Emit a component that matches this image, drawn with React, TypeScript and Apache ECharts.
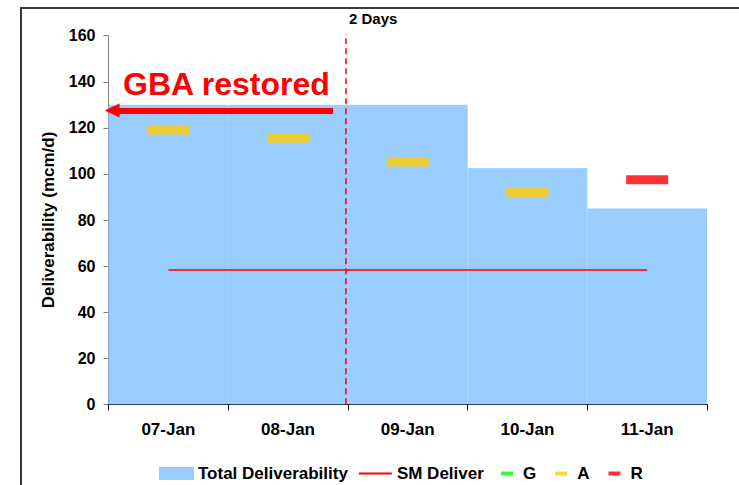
import React, { useEffect, useRef } from "react";
import * as echarts from "echarts";

const categories = ["07-Jan", "08-Jan", "09-Jan", "10-Jan", "11-Jan"];
const totalDeliverability = [130, 130, 130, 102.5, 85];
const smDeliver = [58.3, 58.3, 58.3, 58.3, 58.3];
const gValues: (number | null)[] = [null, null, null, null, null];
const aValues: (number | null)[] = [119.1, 115.5, 105.2, 91.9, null];
const rValues: (number | null)[] = [null, null, null, null, 97.5];
const yTicks = { min: 0, max: 160, interval: 20 };
// position on the hidden value axis (category index units) of the "2 Days" divider
const dividerX = 1.984;
const dividerTop = 160.9;
const arrowFrom = [1.876, 127.5];
const arrowTo = [0.03, 127.5];

const FONT = "'Liberation Sans', Arial, sans-serif";

export default function App() {
  const ref = useRef<HTMLDivElement>(null);
  useEffect(() => {
    document.body.style.margin = "0";
    const chart = echarts.init(ref.current!, undefined, { renderer: "svg" });
    chart.setOption({
      animation: false,
      backgroundColor: "#ffffff",
      textStyle: { fontFamily: FONT },
      grid: { left: 108.5, right: 32, top: 35.7, bottom: 80.7, containLabel: false },
      xAxis: [
        {
          type: "category",
          data: categories,
          axisLine: { lineStyle: { color: "#000", width: 1 } },
          axisTick: { show: true, length: 6, lineStyle: { color: "#000" } },
          axisLabel: { fontSize: 17, fontWeight: "bold", color: "#000", margin: 17, fontFamily: FONT },
          splitLine: { show: false },
        },
        {
          type: "value",
          min: 0,
          max: 5,
          show: false,
          position: "bottom",
        },
      ],
      yAxis: {
        type: "value",
        min: yTicks.min,
        max: yTicks.max,
        interval: yTicks.interval,
        name: "Deliverability (mcm/d)",
        nameLocation: "middle",
        nameRotate: 90,
        nameGap: 52,
        nameTextStyle: { fontSize: 17, fontWeight: "bold", color: "#000", fontFamily: FONT },
        axisLine: { show: true, lineStyle: { color: "#808080", width: 1 } },
        axisTick: { show: true, length: 5, lineStyle: { color: "#808080" } },
        axisLabel: { fontSize: 16, fontWeight: "bold", color: "#000", margin: 13, fontFamily: FONT },
        splitLine: { show: false },
      },
      legend: [
        {
          left: 159,
          top: 465,
          padding: 0,
          itemWidth: 33,
          itemHeight: 11,
          itemGap: 10,
          textStyle: { fontSize: 17, fontWeight: "bold", color: "#000", fontFamily: FONT },
          data: [
            { name: "Total Deliverability", icon: "rect" },
            { name: "SM Deliver", itemStyle: { opacity: 0 }, lineStyle: { width: 2 } },
          ],
        },
        {
          left: 501,
          top: 465,
          padding: 0,
          itemWidth: 12,
          itemHeight: 4,
          itemGap: 19,
          textStyle: {
            fontSize: 17,
            fontWeight: "bold",
            color: "#000",
            fontFamily: FONT,
            padding: [0, 0, 0, 5],
          },
          data: [
            { name: "G", icon: "rect" },
            { name: "A", icon: "rect" },
            { name: "R", icon: "rect" },
          ],
        },
      ],
      series: [
        {
          name: "Total Deliverability",
          type: "bar",
          data: totalDeliverability,
          barCategoryGap: "0%",
          itemStyle: { color: "#99CCFF", borderColor: "#99CCFF", borderWidth: 1 },
          z: 1,
        },
        {
          name: "SM Deliver",
          type: "line",
          data: smDeliver,
          symbol: "none",
          lineStyle: { color: "#FF0000", width: 1.5 },
          itemStyle: { color: "#FF0000" },
          z: 3,
        },
        {
          name: "G",
          type: "scatter",
          data: gValues,
          symbol: "rect",
          symbolSize: [42, 9],
          itemStyle: { color: "#00FF00" },
          z: 4,
        },
        {
          name: "A",
          type: "scatter",
          data: aValues,
          symbol: "rect",
          symbolSize: [42, 9],
          itemStyle: { color: "#FFCC00" },
          z: 4,
        },
        {
          name: "R",
          type: "scatter",
          data: rValues,
          symbol: "rect",
          symbolSize: [42, 9],
          itemStyle: { color: "#FF0000" },
          z: 4,
        },
        {
          name: "divider",
          type: "line",
          xAxisIndex: 1,
          data: [
            [dividerX, 0],
            [dividerX, dividerTop],
          ],
          symbol: "none",
          clip: false,
          silent: true,
          lineStyle: { color: "#FF0000", width: 1.5, type: [6, 4] },
          z: 5,
          markLine: {
            silent: true,
            symbol: ["none", "triangle"],
            symbolSize: [14, 15],
            label: { show: false },
            lineStyle: { color: "#FF0000", width: 6, type: "solid" },
            emphasis: { disabled: true },
            data: [[{ coord: arrowFrom }, { coord: arrowTo }]],
          },
        },
      ],
      graphic: [
        {
          type: "rect",
          shape: { x: 21, y: 8, width: 800, height: 600 },
          style: { fill: "none", stroke: "#3a3a3a", lineWidth: 2 },
          silent: true,
          z: 0,
        },
        {
          type: "text",
          x: 349,
          y: 18,
          style: {
            text: "2 Days",
            font: `bold 15px ${FONT}`,
            fill: "#000",
            verticalAlign: "middle",
            align: "left",
          },
          z: 10,
        },
        {
          type: "text",
          x: 123,
          y: 84,
          style: {
            text: "GBA restored",
            font: `bold 32px ${FONT}`,
            fill: "#FF0000",
            verticalAlign: "middle",
            align: "left",
          },
          z: 10,
        },
      ],
    });
    return () => chart.dispose();
  }, []);
  return <div ref={ref} style={{ width: 739, height: 485 }} />;
}
